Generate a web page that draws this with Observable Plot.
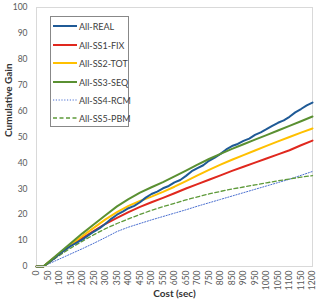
<!DOCTYPE html>
<html><head><meta charset="utf-8">
<script src="https://cdn.jsdelivr.net/npm/d3@7"></script>
<script src="https://cdn.jsdelivr.net/npm/@observablehq/plot@0.6"></script>
<style>
body{margin:0;background:#fff;font-family:Lato,"Open Sans",sans-serif;}
#wrap{position:relative;width:316px;height:303px;}
#legend{position:absolute;left:50px;top:16px;width:79px;height:111px;border:1px solid #888;background:#fff;box-sizing:border-box;font-size:9px;color:#404040;}
.it{position:absolute;left:2px;height:12px;display:flex;align-items:center;white-space:nowrap;}
.it svg{margin-right:2px;flex:none;}
</style></head><body>
<div id="wrap"></div>
<script>
const cost = [0,30,50,100,150,200,250,300,350,400,450,500,550,600,650,700,750,800,850,900,950,1000,1050,1100,1150,1200];
const fix = [0,0,1.4,4.9,8.2,11,13.8,16.5,18.8,21,23,24.8,26.5,28.3,30.1,31.8,33.5,35.2,36.9,38.5,40.1,41.7,43.3,44.9,46.8,48.6];
const tot = [0,0,1.4,5,8.5,11.8,15,18.2,21,23.4,25.3,27,28.8,30.8,33,35.2,37.3,39.3,41.2,43,44.8,46.6,48.3,50,51.7,53.3];
const seq = [0,0,1.5,5.3,9.1,12.8,16.3,19.8,23.2,26,28.5,30.6,32.6,34.8,37,39.3,41.5,43.5,45.4,47.2,49,50.7,52.5,54.3,56.1,57.9];
const rcm = [0,0,0.9,2.9,4.9,6.9,9,11.2,13.5,15.2,16.6,18,19.3,20.6,21.9,23.3,24.6,25.9,27.2,28.5,29.8,31.1,32.4,33.7,35.2,36.7];
const pbm = [0,0,1.2,4.3,7.2,9.8,12.3,14.6,16.6,18.4,20.1,21.7,23.1,24.4,25.7,26.9,28,29,29.9,30.7,31.5,32.3,33.1,33.8,34.5,35.1];
const realCost = [0,30,50,75,100,125,150,175,200,225,250,275,300,325,350,375,400,425,450,475,500,525,550,575,600,625,650,675,700,725,750,775,800,825,850,875,900,925,950,975,1000,1025,1050,1075,1100,1125,1150,1175,1200];
const real = [0,0,1.3,3,4.8,6.5,8,9.2,10.5,12,13.5,14.8,16.5,18.4,20,21.2,22.5,23.4,24.8,26.6,28,28.9,30.2,31.1,32.5,33.4,35,36.8,38,39.1,40.8,42,43.5,45.2,46.5,47.3,48.5,49.4,50.8,51.8,53,54.3,55.5,56.4,57.8,59.5,60.8,62.2,63.3];
const xTicks = d3.range(0,1201,50);
const yTicks = [0,10,20,30,40,50,60,70,80,90,100];
const seriesNames = ["All-REAL","All-SS1-FIX","All-SS2-TOT","All-SS3-SEQ","All-SS4-RCM","All-SS5-PBM"];
const colors = ["#1F5A96","#E0281E","#FFC000","#5A9032","#4A6FD0","#5E9A3A"];
const dashes = [null,null,null,null,"1.2,1.6","4,2.5"];
const widths = [2,2,2,2,1,1.3];

const toRows = (xs, ys, s) => xs.map((c,i)=>({cost:c, gain:ys[i], s}));
const seriesData = [
  toRows(realCost, real, 0), toRows(cost, fix, 1), toRows(cost, tot, 2),
  toRows(cost, seq, 3), toRows(cost, rcm, 4), toRows(cost, pbm, 5)
];
const drawOrder = [4,5,1,2,0,3];
const lines = drawOrder.map(i => Plot.line(seriesData[i], {x:"cost", y:"gain", stroke:colors[i], strokeWidth:widths[i], strokeDasharray:dashes[i]}));

const chart = Plot.plot({
  width:316, height:303,
  marginLeft:36, marginRight:4, marginTop:7, marginBottom:37,
  style:{fontFamily:"Lato, 'Open Sans', sans-serif", fontSize:"8.5px", color:"#595959", background:"#fff"},
  x:{domain:[0,1200]},
  y:{domain:[0,100]},
  marks:[
    Plot.frame({stroke:"#d9d9d9"}),
    Plot.axisX({ticks:xTicks, tickSize:0, tickRotate:-90, tickPadding:4, label:null, tickFormat:d=>String(d)}),
    Plot.axisY({ticks:yTicks, tickSize:0, tickPadding:9, label:null}),
    ...lines,
    Plot.ruleY([0], {stroke:"#d9d9d9"}),
    Plot.text(["Cumulative Gain"], {frameAnchor:"left", dx:-28, rotate:-90, fontWeight:"bold", fontSize:10, fill:"#333"}),
    Plot.text(["Cost (sec)"], {frameAnchor:"bottom", dy:30, fontWeight:"bold", fontSize:10, fill:"#333"})
  ]
});
const wrap = document.getElementById("wrap");
wrap.appendChild(chart);
const leg = document.createElement("div");
leg.id = "legend";
const ys = [3,22,40,59,77,95];
seriesNames.forEach((n,i)=>{
  const d = document.createElement("div");
  d.className = "it";
  d.style.top = ys[i] + "px";
  d.innerHTML = `<svg width="24" height="4"><line x1="0" y1="2" x2="24" y2="2" stroke="${colors[i]}" stroke-width="${widths[i]}" ${dashes[i]?`stroke-dasharray="${dashes[i]}"`:""}/></svg><span>${n}</span>`;
  leg.appendChild(d);
});
wrap.appendChild(leg);
</script></body></html>
